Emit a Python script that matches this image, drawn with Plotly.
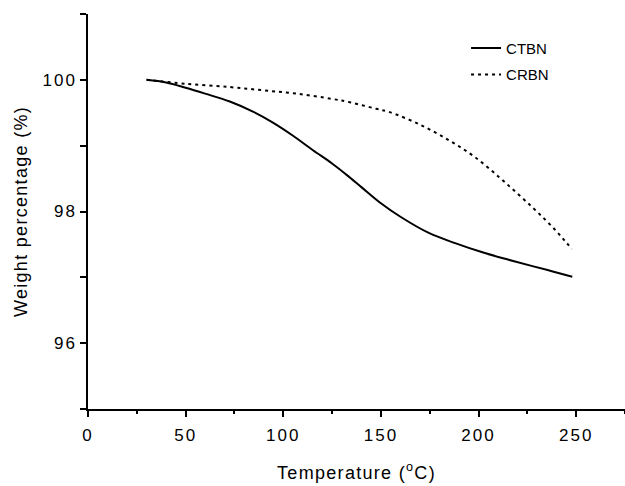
import plotly.graph_objects as go

ctbn_x = [30, 40, 50, 60, 72.6, 85, 94.7, 105, 115.2, 125, 132.3, 140, 149.3, 160, 174.8, 188, 202, 215, 227.6, 238, 248]
ctbn_y = [100.0, 99.96, 99.88, 99.79, 99.67, 99.51, 99.35, 99.15, 98.93, 98.73, 98.56, 98.37, 98.14, 97.92, 97.67, 97.52, 97.38, 97.27, 97.17, 97.09, 97.01]

crbn_x = [30, 50, 72.6, 90, 106.7, 125, 134, 147.6, 154.4, 170, 185, 198, 210.6, 220, 227.7, 234, 239.6, 244, 247.8]
crbn_y = [100.0, 99.94, 99.89, 99.84, 99.79, 99.71, 99.66, 99.56, 99.51, 99.32, 99.08, 98.83, 98.52, 98.27, 98.06, 97.88, 97.71, 97.56, 97.43]

x_ticks = [0, 50, 100, 150, 200, 250]
y_ticks = [96, 98, 100]

fig = go.Figure()
fig.add_trace(go.Scatter(x=ctbn_x, y=ctbn_y, mode="lines", name="CTBN", legendgroup="a",
                         line=dict(color="black", width=2, dash="solid", shape="spline")))
fig.add_trace(go.Scatter(x=crbn_x, y=crbn_y, mode="lines", name="CRBN", legendgroup="b",
                         line=dict(color="black", width=2, dash="3px,4px", shape="spline")))

fam = "Liberation Sans, Arial"
axis_font = dict(family=fam, size=17, color="black")
fig.update_layout(
    width=625, height=486,
    margin=dict(l=88, r=0, t=14, b=77, autoexpand=False),
    paper_bgcolor="white", plot_bgcolor="white",
    font=dict(family=fam, color="black"),
    showlegend=True,
    legend=dict(x=0.704, y=0.955, xanchor="left", yanchor="top",
                font=dict(family=fam, size=15, color="black"),
                bgcolor="rgba(0,0,0,0)", tracegroupgap=4),
    xaxis=dict(range=[0, 275], tickvals=x_ticks, showgrid=False, zeroline=False,
               automargin=False,
               showline=True, linecolor="black", linewidth=1.5,
               ticks="outside", ticklen=6, tickwidth=1.5, tickcolor="black",
               ticklabelstandoff=4,
               minor=dict(dtick=25, tick0=0, ticks="outside", ticklen=3, tickwidth=1.5, tickcolor="black"),
               tickfont=axis_font,
               title=dict(text="Temperature (<sup>o</sup>C)", font=dict(family=fam, size=18, color="black"), standoff=22)),
    yaxis=dict(range=[95, 101], tickvals=y_ticks, showgrid=False, zeroline=False,
               automargin=False,
               showline=True, linecolor="black", linewidth=1.5,
               ticks="outside", ticklen=6, tickwidth=1.5, tickcolor="black",
               minor=dict(dtick=1, tick0=95, ticks="outside", ticklen=6, tickwidth=1.5, tickcolor="black"),
               tickfont=axis_font,
               title=dict(text="Weight percentage (%)", font=dict(family=fam, size=18, color="black"), standoff=16)),
)

post = """
document.body.style.margin = '0';
var gd = document.getElementById('{plot_id}');
gd.querySelectorAll('.xtick text, .ytick text').forEach(function (t) { t.style.letterSpacing = '2px'; });
gd.querySelectorAll('.xtitle, .ytitle').forEach(function (t) { t.style.letterSpacing = '1.3px'; });
"""

fig.write_html("out.html", post_script=post, config={"displayModeBar": False})
